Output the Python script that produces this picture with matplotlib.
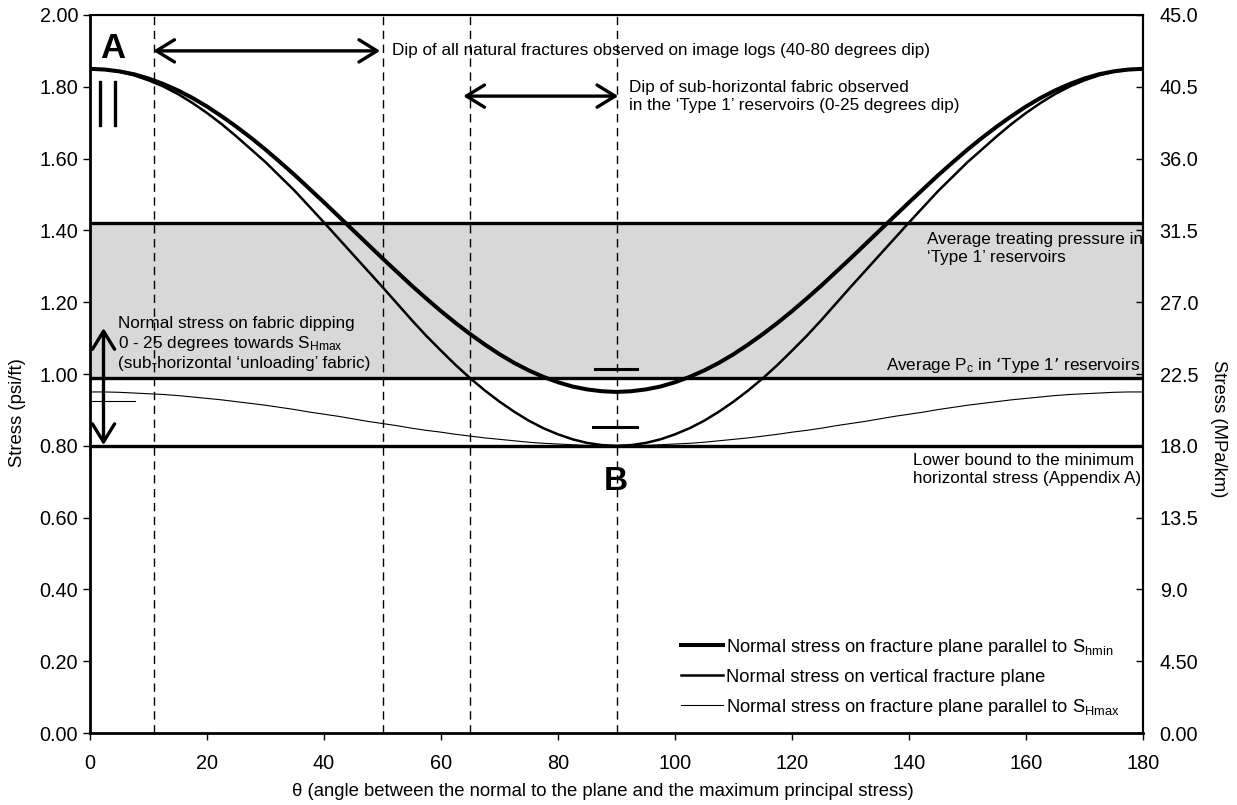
import matplotlib.pyplot as plt

plt.rcParams['font.family'] = ['Liberation Sans', 'DejaVu Sans']
plt.rcParams['mathtext.default'] = 'regular'

# angle between the plane normal and the maximum principal stress (degrees)
theta = [0, 2.5, 5, 7.5, 10, 12.5, 15, 17.5, 20, 22.5, 25, 27.5, 30, 32.5, 35, 37.5, 40, 42.5,
         45, 47.5, 50, 52.5, 55, 57.5, 60, 62.5, 65, 67.5, 70, 72.5, 75, 77.5, 80, 82.5, 85, 87.5,
         90, 92.5, 95, 97.5, 100, 102.5, 105, 107.5, 110, 112.5, 115, 117.5, 120, 122.5, 125, 127.5,
         130, 132.5, 135, 137.5, 140, 142.5, 145, 147.5, 150, 152.5, 155, 157.5, 160, 162.5, 165,
         167.5, 170, 172.5, 175, 177.5, 180]

# normal stress (psi/ft) on a fracture plane parallel to Shmin
sn_shmin = [1.850, 1.848, 1.843, 1.835, 1.823, 1.808, 1.790, 1.769, 1.745, 1.718, 1.689, 1.658,
            1.625, 1.590, 1.554, 1.516, 1.478, 1.439, 1.400, 1.361, 1.322, 1.284, 1.246, 1.210,
            1.175, 1.142, 1.111, 1.082, 1.055, 1.031, 1.010, 0.992, 0.977, 0.965, 0.957, 0.952,
            0.950,
            0.952, 0.957, 0.965, 0.977, 0.992, 1.010, 1.031, 1.055, 1.082, 1.111, 1.142, 1.175,
            1.210, 1.246, 1.284, 1.322, 1.361, 1.400, 1.439, 1.478, 1.516, 1.554, 1.590, 1.625,
            1.658, 1.689, 1.718, 1.745, 1.769, 1.790, 1.808, 1.823, 1.835, 1.843, 1.848, 1.850]

# normal stress (psi/ft) on a vertical fracture plane
sn_vertical = [1.850, 1.848, 1.842, 1.832, 1.818, 1.801, 1.780, 1.755, 1.727, 1.696, 1.662, 1.626,
               1.590, 1.550, 1.510, 1.466, 1.422, 1.377, 1.332, 1.287, 1.242, 1.196, 1.150, 1.106,
               1.065, 1.025, 0.988, 0.954, 0.923, 0.895, 0.870, 0.849, 0.832, 0.818, 0.808, 0.802,
               0.800,
               0.802, 0.808, 0.818, 0.832, 0.849, 0.870, 0.895, 0.923, 0.954, 0.988, 1.025, 1.065,
               1.106, 1.150, 1.196, 1.242, 1.287, 1.332, 1.377, 1.422, 1.466, 1.510, 1.550, 1.590,
               1.626, 1.662, 1.696, 1.727, 1.755, 1.780, 1.801, 1.818, 1.832, 1.842, 1.848, 1.850]

# normal stress (psi/ft) on a fracture plane parallel to SHmax
sn_shmax = [0.950, 0.950, 0.949, 0.947, 0.945, 0.943, 0.940, 0.936, 0.932, 0.928, 0.923, 0.918,
            0.913, 0.907, 0.901, 0.894, 0.888, 0.882, 0.875, 0.868, 0.862, 0.856, 0.849, 0.843,
            0.838, 0.832, 0.827, 0.822, 0.818, 0.814, 0.810, 0.807, 0.805, 0.803, 0.801, 0.800,
            0.800,
            0.800, 0.801, 0.803, 0.805, 0.807, 0.810, 0.814, 0.818, 0.822, 0.827, 0.832, 0.838,
            0.843, 0.849, 0.856, 0.862, 0.868, 0.875, 0.882, 0.888, 0.894, 0.901, 0.907, 0.913,
            0.918, 0.923, 0.928, 0.932, 0.936, 0.940, 0.943, 0.945, 0.947, 0.949, 0.950, 0.950]

treating_pressure = 1.42   # average treating pressure, Type 1 reservoirs
closure_pressure = 0.99    # average Pc, Type 1 reservoirs
shmin_lower_bound = 0.80   # lower bound to the minimum horizontal stress

dip_lines = [11, 50, 65, 90]

left_ticks = [0.0, 0.2, 0.4, 0.6, 0.8, 1.0, 1.2, 1.4, 1.6, 1.8, 2.0]
right_ticks = [0.0, 4.5, 9.0, 13.5, 18.0, 22.5, 27.0, 31.5, 36.0, 40.5, 45.0]
right_labels = ['0.00', '4.50', '9.0', '13.5', '18.0', '22.5', '27.0', '31.5', '36.0', '40.5', '45.0']
x_ticks = [0, 20, 40, 60, 80, 100, 120, 140, 160, 180]

fig = plt.figure(figsize=(12.37, 8.05), dpi=100)
ax = fig.add_axes([0.0728, 0.0894, 0.8512, 0.892])

# shaded band between Pc and treating pressure
ax.axhspan(closure_pressure, treating_pressure, color='#d8d8d8', zorder=0, lw=0)
for level in (treating_pressure, closure_pressure, shmin_lower_bound):
    ax.axhline(level, color='black', lw=2.4, zorder=2)

for x in dip_lines:
    ax.axvline(x, color='black', lw=1.0, ls=(0, (6, 4)), zorder=1)

l1, = ax.plot(theta, sn_shmin, color='black', lw=2.9, zorder=3,
              label='Normal stress on fracture plane parallel to S$_{hmin}$')
l2, = ax.plot(theta, sn_vertical, color='black', lw=1.8, zorder=3,
              label='Normal stress on vertical fracture plane')
l3, = ax.plot(theta, sn_shmax, color='black', lw=0.8, zorder=3,
              label='Normal stress on fracture plane parallel to S$_{Hmax}$')

# small markers near 90 degrees and at the left edge
ax.plot([86.3, 93.5], [1.014, 1.014], color='black', lw=2.2)
ax.plot([86.0, 93.5], [0.852, 0.852], color='black', lw=2.2)
ax.plot([0.3, 7.7], [0.926, 0.926], color='black', lw=0.8)
ax.plot([1.7, 1.7], [1.694, 1.813], color='black', lw=2.4)
ax.plot([4.3, 4.3], [1.694, 1.813], color='black', lw=2.4)

arrow = dict(arrowstyle='<->,head_length=0.65,head_width=0.4', lw=2.4, color='black',
             mutation_scale=20, shrinkA=0, shrinkB=0)
ax.annotate('', xy=(10.8, 1.90), xytext=(49.6, 1.90), arrowprops=arrow)
ax.annotate('', xy=(63.8, 1.774), xytext=(90.3, 1.774), arrowprops=arrow)
ax.annotate('', xy=(2.3, 0.802), xytext=(2.3, 1.128), arrowprops=arrow)

fs = 12.3
ls = 1.25
ax.text(51.6, 1.90, 'Dip of all natural fractures observed on image logs (40-80 degrees dip)',
        fontsize=fs, va='center', ha='left')
ax.text(92.1, 1.774, 'Dip of sub-horizontal fabric observed\nin the \u2018Type 1\u2019 reservoirs (0-25 degrees dip)',
        fontsize=fs, va='center', ha='left', linespacing=ls)
ax.text(4.7, 1.085, 'Normal stress on fabric dipping\n0 - 25 degrees towards S$_{Hmax}$\n'
        '(sub-horizontal \u2018unloading\u2019 fabric)',
        fontsize=fs, va='center', ha='left', linespacing=ls)
ax.text(143.1, 1.35, 'Average treating pressure in\n\u2018Type 1\u2019 reservoirs',
        fontsize=fs, va='center', ha='left', linespacing=ls)
ax.text(179.5, 0.997, 'Average P$_c$ in \u2018Type 1\u2019 reservoirs',
        fontsize=fs, va='bottom', ha='right')
ax.text(140.7, 0.733, 'Lower bound to the minimum\nhorizontal stress (Appendix A)',
        fontsize=fs, va='center', ha='left', linespacing=ls)

ax.text(3.8, 1.880, 'A', fontsize=25, fontweight='bold', ha='center', va='baseline')
ax.text(89.9, 0.677, 'B', fontsize=24, fontweight='bold', ha='center', va='baseline')

ax.legend(handles=[l1, l2, l3], loc='upper left', bbox_to_anchor=(0.561, 0.134),
          frameon=False, fontsize=13.2, handlelength=2.3, handletextpad=0.15,
          labelspacing=0.6, borderpad=0, borderaxespad=0)

ax.set_xlim(0, 180)
ax.set_ylim(0, 2.0)
ax.set_xticks(x_ticks)
ax.set_yticks(left_ticks)
ax.set_yticklabels([f'{v:.2f}' for v in left_ticks])
ax.tick_params(axis='both', labelsize=14.3, direction='out', length=5, width=1)
ax.tick_params(axis='x', pad=10)
ax.set_xlabel('\u03b8 (angle between the normal to the plane and the maximum principal stress)', fontsize=13.3)
ax.set_ylabel('Stress (psi/ft)', fontsize=13.3)
ax.yaxis.set_label_coords(-0.061, 0.446)
ax.xaxis.set_label_coords(0.487, -0.07)

for side in ('left', 'bottom'):
    ax.spines[side].set_linewidth(2.0)
for side in ('top', 'right'):
    ax.spines[side].set_linewidth(1.5)

ax2 = ax.twinx()
ax2.set_ylim(0, 45)
ax2.set_yticks(right_ticks)
ax2.set_yticklabels(right_labels)
ax2.tick_params(axis='y', labelsize=14.3, direction='in', length=5, width=1, pad=12)
ax2.set_ylabel('Stress (MPa/km)', fontsize=13.3, rotation=270)
ax2.yaxis.set_label_coords(1.08, 0.424)
ax2.spines['right'].set_linewidth(1.5)

fig.savefig('out.png', dpi=100)
